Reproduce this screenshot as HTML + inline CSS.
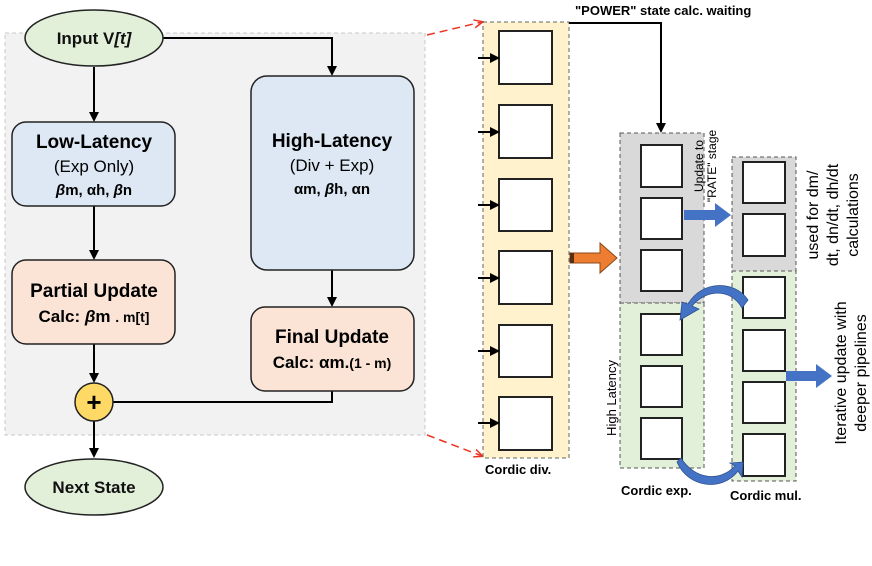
<!DOCTYPE html>
<html><head><meta charset="utf-8"><style>
html,body{margin:0;padding:0;background:#fff;}
svg{display:block;font-family:"Liberation Sans",Arial,sans-serif;}
</style></head><body>
<svg width="872" height="566" viewBox="0 0 872 566" xmlns="http://www.w3.org/2000/svg">
<defs>
<marker id="ah" markerWidth="10" markerHeight="10" refX="8" refY="5" orient="auto" markerUnits="userSpaceOnUse"><path d="M0,0 L10,5 L0,10 z" fill="#000"/></marker>
<marker id="rh" markerWidth="10" markerHeight="10" refX="8" refY="5" orient="auto" markerUnits="userSpaceOnUse"><path d="M0,1 L9,5 L0,9" fill="none" stroke="#e32" stroke-width="1.5"/></marker>
</defs>
<rect x="5" y="33" width="420" height="402" fill="#f2f2f2" stroke="#c8c8c8" stroke-dasharray="4,3"/>
<line x1="427" y1="35" x2="482" y2="22" stroke="#e32" stroke-width="1.5" stroke-dasharray="8,5" marker-end="url(#rh)"/>
<line x1="427" y1="435" x2="482" y2="456" stroke="#e32" stroke-width="1.5" stroke-dasharray="8,5" marker-end="url(#rh)"/>
<g stroke="#000" stroke-width="2" fill="none">
<line x1="94" y1="67" x2="94" y2="120" marker-end="url(#ah)"/>
<polyline points="163,38 332,38 332,74" marker-end="url(#ah)"/>
<line x1="94" y1="206" x2="94" y2="258" marker-end="url(#ah)"/>
<line x1="332" y1="270" x2="332" y2="305" marker-end="url(#ah)"/>
<line x1="94" y1="344" x2="94" y2="381" marker-end="url(#ah)"/>
<polyline points="332,391 332,402 113,402"/>
<line x1="94" y1="421" x2="94" y2="456" marker-end="url(#ah)"/>
</g>
<ellipse cx="94" cy="38" rx="69" ry="28" fill="#e2efd9" stroke="#222" stroke-width="1.5"/>
<text x="94" y="44" font-size="17" text-anchor="middle" font-weight="bold" fill="#111">Input V<tspan font-style="italic">[t]</tspan></text>
<rect x="12" y="122" width="163" height="84" rx="14" fill="#dde8f4" stroke="#222" stroke-width="1.5"/>
<text x="94" y="148" font-size="19" font-weight="bold" text-anchor="middle">Low-Latency</text>
<text x="94" y="172" font-size="17" text-anchor="middle">(Exp Only)</text>
<text x="94" y="195" font-size="15" font-weight="bold" text-anchor="middle"><tspan font-style="italic">β</tspan>m, αh, <tspan font-style="italic">β</tspan>n</text>
<rect x="251" y="76" width="163" height="194" rx="16" fill="#dde8f4" stroke="#222" stroke-width="1.5"/>
<text x="332" y="147" font-size="19" font-weight="bold" text-anchor="middle">High-Latency</text>
<text x="332" y="171" font-size="17" text-anchor="middle">(Div + Exp)</text>
<text x="332" y="194" font-size="15" font-weight="bold" text-anchor="middle">αm, <tspan font-style="italic">β</tspan>h, αn</text>
<rect x="12" y="260" width="163" height="84" rx="14" fill="#fbe4d5" stroke="#222" stroke-width="1.5"/>
<text x="94" y="297" font-size="19" font-weight="bold" text-anchor="middle">Partial Update</text>
<text x="94" y="322" font-size="17" font-weight="bold" text-anchor="middle">Calc: <tspan font-style="italic">β</tspan>m <tspan font-size="14">. m[t]</tspan></text>
<rect x="251" y="307" width="163" height="84" rx="14" fill="#fbe4d5" stroke="#222" stroke-width="1.5"/>
<text x="332" y="343" font-size="19" font-weight="bold" text-anchor="middle">Final Update</text>
<text x="332" y="368" font-size="17" font-weight="bold" text-anchor="middle">Calc: αm.<tspan font-size="14">(1 - m)</tspan></text>
<circle cx="94" cy="402" r="19" fill="#ffd966" stroke="#222" stroke-width="1.5"/>
<text x="94" y="411" font-size="26" font-weight="bold" text-anchor="middle">+</text>
<ellipse cx="94" cy="487" rx="69" ry="28" fill="#e2efd9" stroke="#222" stroke-width="1.5"/>
<text x="94" y="493" font-size="17" font-weight="bold" text-anchor="middle" fill="#111">Next State</text>

<rect x="483" y="22" width="86" height="436" fill="#fff2cc" stroke="#666" stroke-dasharray="4,3"/>
<g fill="#fff" stroke="#222" stroke-width="2">
<rect x="499" y="31" width="53" height="53"/><rect x="499" y="105" width="53" height="53"/>
<rect x="499" y="179" width="53" height="52"/><rect x="499" y="251" width="53" height="53"/>
<rect x="499" y="325" width="53" height="52"/><rect x="499" y="397" width="53" height="53"/>
</g>
<g stroke="#000" stroke-width="2" marker-end="url(#ah)">
<line x1="478" y1="58" x2="498" y2="58"/><line x1="478" y1="132" x2="498" y2="132"/>
<line x1="478" y1="205" x2="498" y2="205"/><line x1="478" y1="278" x2="498" y2="278"/>
<line x1="478" y1="351" x2="498" y2="351"/><line x1="478" y1="423" x2="498" y2="423"/>
</g>
<text x="485" y="474" font-size="13" font-weight="bold">Cordic div.</text>
<text x="575" y="15" font-size="13" font-weight="bold">"POWER" state calc. waiting</text>
<polyline points="569,23 661,23 661,131" fill="none" stroke="#000" stroke-width="2" marker-end="url(#ah)"/>
<path d="M570,253 H600 V243 L617,258 L600,273 V263 H570 Z" fill="#ed7d31" stroke="#8a4a1a" stroke-width="1"/>
<rect x="570" y="253" width="4" height="10" fill="#5a2e10"/>
<rect x="620" y="133" width="84" height="170" fill="#d9d9d9" stroke="#555" stroke-dasharray="4,3"/>
<rect x="620" y="303" width="84" height="165" fill="#e2efd9" stroke="#555" stroke-dasharray="4,3"/>
<rect x="732" y="157" width="64" height="114" fill="#d9d9d9" stroke="#555" stroke-dasharray="4,3"/>
<rect x="732" y="271" width="64" height="210" fill="#e2efd9" stroke="#555" stroke-dasharray="4,3"/>
<g fill="#fff" stroke="#222" stroke-width="2">
<rect x="641" y="145" width="41" height="42"/><rect x="641" y="198" width="41" height="41"/>
<rect x="641" y="250" width="41" height="41"/><rect x="641" y="314" width="41" height="41"/>
<rect x="641" y="366" width="41" height="41"/><rect x="641" y="418" width="41" height="41"/>
<rect x="743" y="162" width="42" height="41"/><rect x="743" y="214" width="42" height="42"/>
<rect x="743" y="277" width="42" height="41"/><rect x="743" y="330" width="42" height="41"/>
<rect x="743" y="382" width="42" height="41"/><rect x="743" y="434" width="42" height="42"/>
</g>
<path d="M684,210 H715 V203 L731,215 L715,227 V220 H684 Z" fill="#4472c4"/>
<path d="M786,371 H816 V364 L832,376 L816,388 V381 H786 Z" fill="#4472c4"/>
<path d="M742,308 C730,287 705,290 692,306 L699,309 L680,320 L682,302 L688,304 C702,280 735,280 748,300 Z" fill="#4472c4" stroke="#2f528f" stroke-width="0.8"/>
<path d="M681,458 C695,480 720,482 735,466 L730,463 L743,462 L742,477 L738,471 C722,492 688,488 677,462 Z" fill="#4472c4" stroke="#2f528f" stroke-width="0.8"/>
<text x="621" y="495" font-size="13" font-weight="bold">Cordic exp.</text>
<text x="730" y="500" font-size="13" font-weight="bold">Cordic mul.</text>
<g transform="translate(616,398) rotate(-90)"><text x="0" y="0" font-size="13" text-anchor="middle">High Latency</text></g>
<g transform="translate(707,166) rotate(-90)" font-size="12" text-anchor="middle"><text x="0" y="-4">Update to</text><text x="0" y="9">"RATE" stage</text></g>
<g transform="translate(818,215) rotate(-90)" font-size="16" text-anchor="middle"><text x="0" y="0">used for dm/</text><text x="0" y="20">dt, dn/dt, dh/dt</text><text x="0" y="40">calculations</text></g>
<g transform="translate(846,373) rotate(-90)" font-size="16" text-anchor="middle"><text x="0" y="0">Iterative update with</text><text x="0" y="20">deeper pipelines</text></g>
</svg>
</body></html>
